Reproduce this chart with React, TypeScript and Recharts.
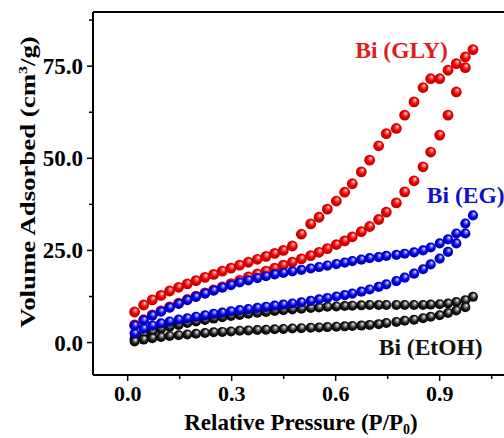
import React from "react";
import {
  ScatterChart,
  Scatter,
  XAxis,
  YAxis,
  ReferenceLine,
  ReferenceDot,
  Label,
} from "recharts";

const FONT = '"Liberation Serif", "Times New Roman", serif';

// relative pressure
const P_DES = [
  0.02, 0.046, 0.071, 0.096, 0.121, 0.147, 0.172, 0.197, 0.223, 0.248, 0.273,
  0.298, 0.323, 0.348, 0.374, 0.399, 0.424, 0.449, 0.475, 0.501, 0.528, 0.552,
  0.576, 0.602, 0.626, 0.648, 0.674, 0.698, 0.724, 0.746, 0.775, 0.799, 0.826,
  0.852, 0.874, 0.9, 0.924, 0.948, 0.974, 0.996,
];
const P_ADS = [
  0.02, 0.046, 0.071, 0.096, 0.121, 0.147, 0.172, 0.197, 0.223, 0.248, 0.273,
  0.298, 0.323, 0.348, 0.374, 0.399, 0.424, 0.449, 0.475, 0.501, 0.528, 0.552,
  0.576, 0.602, 0.626, 0.648, 0.674, 0.698, 0.724, 0.746, 0.775, 0.799, 0.826,
  0.852, 0.874, 0.9, 0.924, 0.948, 0.974,
];

// Bi (GLY)
const GLY_DES = [
  8.3, 10.2, 11.6, 12.8, 14.0, 15.0, 15.9, 16.8, 17.7, 18.5, 19.4, 20.2, 21.0,
  21.8, 22.6, 23.4, 24.2, 25.0, 26.2, 29.4, 32.2, 34.0, 36.2, 38.4, 40.8, 43.1,
  46.3, 49.5, 53.4, 56.7, 58.1, 61.7, 65.3, 69.2, 71.6, 71.6, 73.9, 75.7, 77.5,
  79.5,
];
const GLY_ADS = [
  4.8, 6.2, 7.5, 8.6, 9.7, 10.7, 11.7, 12.6, 13.5, 14.3, 15.1, 16.0, 16.9,
  17.8, 18.6, 19.4, 20.2, 21.0, 21.8, 22.7, 23.6, 24.5, 25.5, 26.6, 27.6, 28.7,
  30.1, 31.5, 33.4, 35.4, 37.9, 40.9, 43.9, 47.7, 51.7, 56.3, 61.7, 68.0, 74.6,
];

// Bi (EG)
const EG_DES = [
  4.6, 6.0, 7.3, 8.4, 9.5, 10.5, 11.5, 12.4, 13.3, 14.1, 14.9, 15.6, 16.3, 16.9,
  17.5, 18.0, 18.5, 18.9, 19.3, 19.7, 20.1, 20.5, 20.9, 21.3, 21.7, 22.1, 22.5,
  22.9, 23.2, 23.5, 23.8, 24.1, 24.5, 25.0, 25.8, 26.9, 28.0, 29.6, 32.3, 34.5,
];
const EG_ADS = [
  2.5, 3.8, 4.6, 5.2, 5.7, 6.2, 6.6, 7.0, 7.4, 7.8, 8.1, 8.5, 8.8, 9.1, 9.4,
  9.7, 10.0, 10.3, 10.6, 10.9, 11.3, 11.7, 12.1, 12.5, 12.9, 13.3, 13.8, 14.4,
  15.1, 15.8, 16.7, 17.6, 18.7, 19.9, 21.2, 22.8, 24.6, 26.9, 29.6,
];

// Bi (EtOH)
const ETOH_DES = [
  1.0, 2.2, 3.0, 3.7, 4.3, 4.8, 5.3, 5.7, 6.1, 6.5, 6.9, 7.2, 7.5, 7.8, 8.1,
  8.3, 8.6, 8.8, 9.0, 9.2, 9.4, 9.5, 9.7, 9.8, 9.9, 10.0, 10.1, 10.2, 10.2,
  10.2, 10.2, 10.2, 10.2, 10.2, 10.3, 10.4, 10.6, 11.0, 11.5, 12.4,
];
const ETOH_ADS = [
  0.3, 0.8, 1.2, 1.5, 1.8, 2.0, 2.2, 2.4, 2.6, 2.8, 2.9, 3.0, 3.2, 3.3, 3.4,
  3.5, 3.6, 3.7, 3.8, 3.9, 4.0, 4.1, 4.2, 4.3, 4.4, 4.5, 4.6, 4.8, 5.0, 5.3,
  5.6, 5.9, 6.2, 6.6, 7.0, 7.4, 8.0, 8.7, 9.6,
];

const X_TICKS = [0, 0.15, 0.3, 0.45, 0.6, 0.75, 0.9, 1.05];
const Y_TICKS = [0, 12.5, 25, 37.5, 50, 62.5, 75, 87.5];
const X_DOMAIN: [number, number] = [-0.1, 1.1];
const Y_DOMAIN: [number, number] = [-8.8, 89.7];

const toPoints = (p: number[], v: number[]) =>
  p.map((x, i) => ({ p: x, v: v[i] }));

const TICK_SIZE = 6;
const TICK_MARGIN = 4;

const isMajor = (v: number, step: number) =>
  Math.abs(v / step - Math.round(v / step)) < 1e-6;

const XTick = (props: any) => {
  const { x, y, payload } = props;
  const major = isMajor(payload.value, 0.3);
  const axisY = y - TICK_SIZE - TICK_MARGIN;
  return (
    <g>
      <line
        x1={x}
        x2={x}
        y1={axisY}
        y2={axisY + (major ? 6 : 4)}
        stroke="#000"
        strokeWidth={1.5}
      />
      {major && (
        <text
          x={x}
          y={y}
          dy="0.71em"
          textAnchor="middle"
          fontFamily={FONT}
          fontWeight="bold"
          fontSize={22}
          fill="#000"
        >
          {payload.value.toFixed(1)}
        </text>
      )}
    </g>
  );
};

const YTick = (props: any) => {
  const { x, y, payload } = props;
  const major = isMajor(payload.value, 25);
  const axisX = x + TICK_SIZE + 4;
  return (
    <g>
      <line
        x1={axisX}
        x2={axisX - (major ? 6 : 4)}
        y1={y}
        y2={y}
        stroke="#000"
        strokeWidth={1.5}
      />
      {major && (
        <text
          x={x}
          y={y}
          dy="0.35em"
          textAnchor="end"
          fontFamily={FONT}
          fontWeight="bold"
          fontSize={23}
          fill="#000"
        >
          {payload.value.toFixed(1)}
        </text>
      )}
    </g>
  );
};

const ball = (grad: string, r: number) => (props: any) =>
  <circle cx={props.cx} cy={props.cy} r={r} fill={`url(#${grad})`} />;

const seriesLabel = (text: string, color: string) => ({
  value: text,
  position: "center" as const,
  fill: color,
  fontSize: 23.5,
  fontWeight: "bold",
  fontFamily: FONT,
});

export default function App() {
  return (
    <div
      style={{
        position: "absolute",
        left: 0,
        top: 0,
        width: 504,
        height: 438,
        overflow: "hidden",
        background: "#fff",
      }}
    >
      <ScatterChart
        width={520}
        height={438}
        margin={{ top: 12, right: 11, bottom: 0, left: 0 }}
      >
        <defs>
          <radialGradient id="gRed" cx="50%" cy="50%" r="55%" fx="62%" fy="30%">
            <stop offset="0%" stopColor="#ffffff" />
            <stop offset="20%" stopColor="#ff7a7a" />
            <stop offset="52%" stopColor="#f00000" />
            <stop offset="100%" stopColor="#b00000" />
          </radialGradient>
          <radialGradient id="gBlue" cx="50%" cy="50%" r="55%" fx="62%" fy="30%">
            <stop offset="0%" stopColor="#ffffff" />
            <stop offset="20%" stopColor="#8080ff" />
            <stop offset="52%" stopColor="#0000ee" />
            <stop offset="100%" stopColor="#000099" />
          </radialGradient>
          <radialGradient id="gBlack" cx="50%" cy="50%" r="55%" fx="62%" fy="30%">
            <stop offset="0%" stopColor="#ffffff" />
            <stop offset="22%" stopColor="#9a9a9a" />
            <stop offset="58%" stopColor="#151515" />
            <stop offset="100%" stopColor="#000000" />
          </radialGradient>
        </defs>
        <XAxis
          type="number"
          dataKey="p"
          domain={X_DOMAIN}
          ticks={X_TICKS}
          interval={0}
          allowDataOverflow
          height={63}
          tickLine={false}
          tickSize={TICK_SIZE}
          tickMargin={TICK_MARGIN}
          axisLine={{ stroke: "#000", strokeWidth: 2 }}
          tick={<XTick />}
        >
          <Label
            content={(p: any) => {
              const vb = p.viewBox;
              return (
                <text
                  x={vb.x + vb.width / 2}
                  y={vb.y + 55}
                  textAnchor="middle"
                  fontFamily={FONT}
                  fontWeight="bold"
                  fontSize={23}
                  fill="#000"
                >
                  Relative Pressure (P/P
                  <tspan dy={4} fontSize={14}>
                    0
                  </tspan>
                  <tspan dy={-4}>)</tspan>
                </text>
              );
            }}
          />
        </XAxis>
        <YAxis
          type="number"
          dataKey="v"
          domain={Y_DOMAIN}
          ticks={Y_TICKS}
          interval={0}
          allowDataOverflow
          width={93}
          tickLine={false}
          tickSize={TICK_SIZE}
          tickMargin={4}
          axisLine={{ stroke: "#000", strokeWidth: 2 }}
          tick={<YTick />}
        >
          <Label
            content={(p: any) => {
              const vb = p.viewBox;
              return (
                <text
                  transform={`translate(${vb.x + 35},${vb.y + 170}) rotate(-90) scale(1.22,1)`}
                  textAnchor="middle"
                  fontFamily={FONT}
                  fontWeight="bold"
                  fontSize={22}
                  fill="#000"
                >
                  Volume Adsorbed (cm
                  <tspan dy={-8} fontSize={13}>
                    3
                  </tspan>
                  <tspan dy={8}>/g)</tspan>
                </text>
              );
            }}
          />
        </YAxis>
        <ReferenceLine y={Y_DOMAIN[1]} stroke="#000" strokeWidth={2} />

        <Scatter
          data={toPoints(P_ADS, GLY_ADS)}
          shape={ball("gRed", 5.4)}
          isAnimationActive={false}
        />
        <Scatter
          data={toPoints(P_DES, GLY_DES)}
          shape={ball("gRed", 5.4)}
          isAnimationActive={false}
        />
        <Scatter
          data={toPoints(P_DES, ETOH_DES)}
          shape={ball("gBlack", 5)}
          isAnimationActive={false}
        />
        <Scatter
          data={toPoints(P_ADS, ETOH_ADS)}
          shape={ball("gBlack", 5)}
          isAnimationActive={false}
        />
        <Scatter
          data={toPoints(P_ADS, EG_ADS)}
          shape={ball("gBlue", 5.1)}
          isAnimationActive={false}
        />
        <Scatter
          data={toPoints(P_DES, EG_DES)}
          shape={ball("gBlue", 5.1)}
          isAnimationActive={false}
        />

        <ReferenceDot x={0.79} y={79.6} r={0} fill="none" stroke="none" label={seriesLabel("Bi (GLY)", "#e41a1c")} />
        <ReferenceDot x={0.975} y={40.2} r={0} fill="none" stroke="none" label={seriesLabel("Bi (EG)", "#1010d0")} />
        <ReferenceDot x={0.874} y={-1.2} r={0} fill="none" stroke="none" label={seriesLabel("Bi (EtOH)", "#111")} />
      </ScatterChart>
    </div>
  );
}
